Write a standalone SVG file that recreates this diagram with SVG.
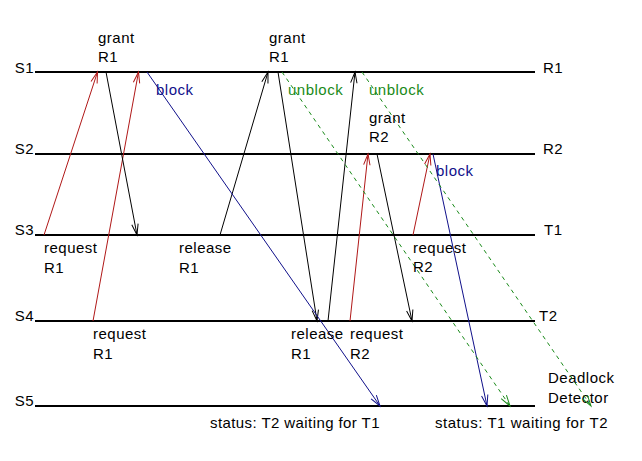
<svg xmlns="http://www.w3.org/2000/svg" width="642" height="461" viewBox="0 0 642 461">
<style>
text{font-family:"Liberation Sans",Arial,Helvetica,sans-serif;font-size:15px;letter-spacing:0.5px;fill:#000}
.tl{stroke:#000;stroke-width:2;fill:none}
.m{fill:none;stroke-width:1}
.red{stroke:#b01818}
.blk{stroke:#000}
.blu{stroke:#10108a}
.grn{stroke:#198a19;stroke-dasharray:4,4}
.tb{fill:#10108a}
.tg{fill:#198a19}
</style>
<defs>
<marker id="ar" viewBox="-13 -5 14 10" refX="0" refY="0" markerWidth="14" markerHeight="10" markerUnits="userSpaceOnUse" orient="auto" overflow="visible"><path d="M-11,-3.2 L0,0 L-11,3.2" fill="none" stroke="#b01818" stroke-width="1"/></marker>
<marker id="ak" viewBox="-13 -5 14 10" refX="0" refY="0" markerWidth="14" markerHeight="10" markerUnits="userSpaceOnUse" orient="auto" overflow="visible"><path d="M-11,-3.2 L0,0 L-11,3.2" fill="none" stroke="#000" stroke-width="1"/></marker>
<marker id="ab" viewBox="-13 -5 14 10" refX="0" refY="0" markerWidth="14" markerHeight="10" markerUnits="userSpaceOnUse" orient="auto" overflow="visible"><path d="M-11,-3.2 L0,0 L-11,3.2" fill="none" stroke="#10108a" stroke-width="1"/></marker>
<marker id="ag" viewBox="-13 -5 14 10" refX="0" refY="0" markerWidth="14" markerHeight="10" markerUnits="userSpaceOnUse" orient="auto" overflow="visible"><path d="M-11,-3.2 L0,0 L-11,3.2" fill="none" stroke="#198a19" stroke-width="1"/></marker>
</defs>
<rect width="642" height="461" fill="#fff"/>
<g id="S1"><line class="tl" x1="35" y1="72" x2="535" y2="72"/><text x="34" y="73" text-anchor="end">S1</text><text x="543" y="73">R1</text></g>
<g id="S2"><line class="tl" x1="35" y1="154" x2="535" y2="154"/><text x="34" y="154" text-anchor="end">S2</text><text x="543" y="154">R2</text></g>
<g id="S3"><line class="tl" x1="35" y1="235" x2="535" y2="235"/><text x="34" y="235" text-anchor="end">S3</text><text x="544" y="235">T1</text></g>
<g id="S4"><line class="tl" x1="35" y1="321" x2="535" y2="321"/><text x="34" y="321" text-anchor="end">S4</text><text x="539" y="321">T2</text></g>
<g id="S5"><line class="tl" x1="35" y1="406" x2="535" y2="406"/><text x="34" y="406" text-anchor="end">S5</text><text x="548" y="383">Deadlock</text><text x="548" y="403">Detector</text></g>
<g id="connectors">
<line class="m red" x1="44" y1="235" x2="97.5" y2="72" marker-end="url(#ar)"/>
<line class="m red" x1="93" y1="321" x2="138.5" y2="72" marker-end="url(#ar)"/>
<line class="m red" x1="350" y1="321" x2="368" y2="154" marker-end="url(#ar)"/>
<line class="m red" x1="413" y1="235" x2="430" y2="154" marker-end="url(#ar)"/>
<line class="m blk" x1="106" y1="72" x2="137" y2="235" marker-end="url(#ak)"/>
<line class="m blk" x1="220" y1="235" x2="268" y2="72" marker-end="url(#ak)"/>
<line class="m blk" x1="278" y1="72" x2="317" y2="321" marker-end="url(#ak)"/>
<line class="m blk" x1="328" y1="321" x2="355" y2="72" marker-end="url(#ak)"/>
<line class="m blk" x1="377" y1="154" x2="412" y2="321" marker-end="url(#ak)"/>
<line class="m blu" x1="147" y1="72" x2="380" y2="406" marker-end="url(#ab)"/>
<line class="m blu" x1="433" y1="154" x2="487" y2="406" marker-end="url(#ab)"/>
<line class="m grn" x1="282" y1="72" x2="510" y2="406" marker-end="url(#ag)"/>
<line class="m grn" x1="362" y1="72" x2="591" y2="406" marker-end="url(#ag)"/>
</g>
<g id="labels">
<text x="98" y="43">grant</text><text x="98" y="62">R1</text>
<text x="269" y="43">grant</text><text x="269" y="62">R1</text>
<text x="369" y="123">grant</text><text x="369" y="142">R2</text>
<text class="tb" x="156" y="95">block</text>
<text class="tg" x="288" y="95">unblock</text>
<text class="tg" x="369" y="95">unblock</text>
<text class="tb" x="436" y="176">block</text>
<text x="44" y="253">request</text><text x="44" y="273">R1</text>
<text x="179" y="253">release</text><text x="179" y="273">R1</text>
<text x="413" y="253">request</text><text x="413" y="272">R2</text>
<text x="93" y="339">request</text><text x="93" y="359">R1</text>
<text x="291" y="339">release</text><text x="291" y="359">R1</text>
<text x="350" y="339">request</text><text x="350" y="359">R2</text>
<text x="210" y="428" textLength="170" lengthAdjust="spacing">status: T2 waiting for T1</text>
<text x="435" y="428" textLength="173" lengthAdjust="spacing">status: T1 waiting for T2</text>
</g>
</svg>
